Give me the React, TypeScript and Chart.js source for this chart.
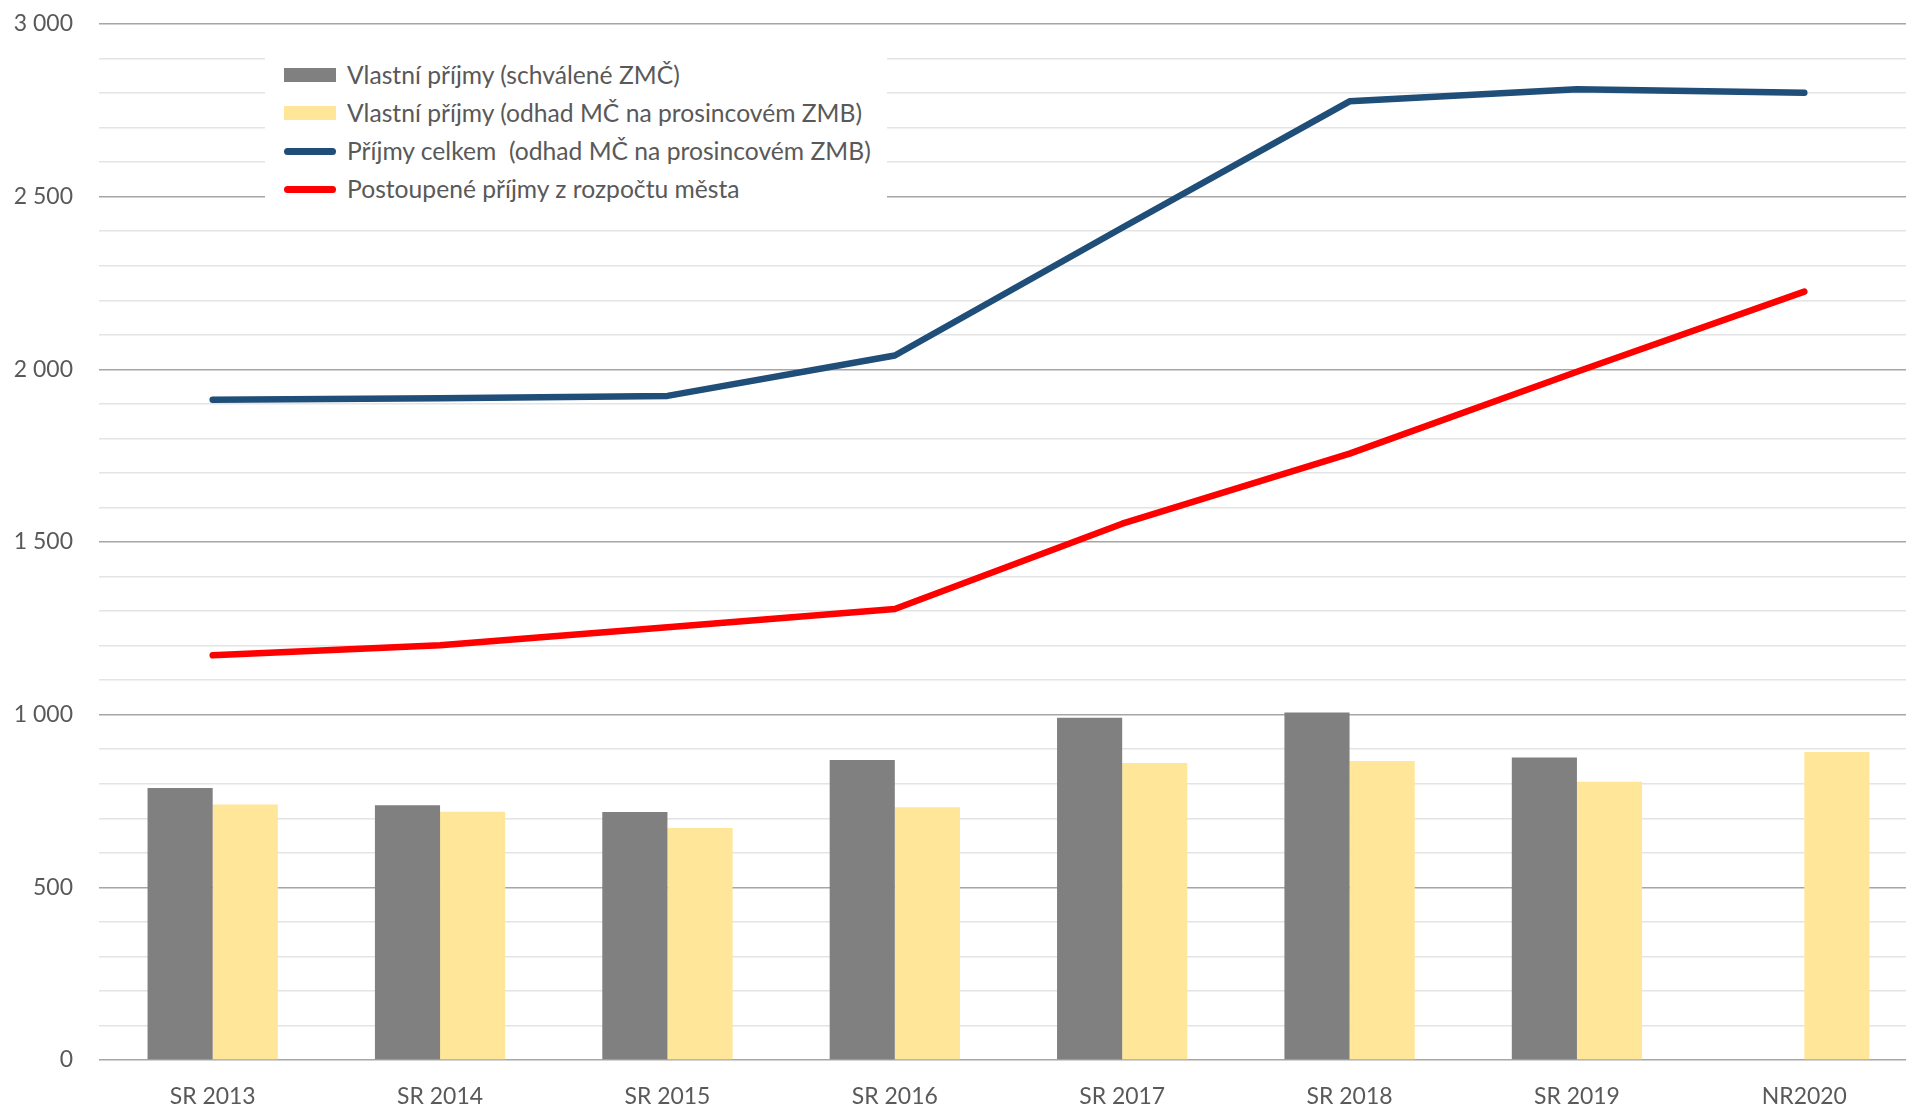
import React, { useEffect, useRef } from "react";
import { Chart, registerables } from "chart.js";

Chart.register(...registerables);

const categories = ["SR 2013", "SR 2014", "SR 2015", "SR 2016", "SR 2017", "SR 2018", "SR 2019", "NR2020"];
const ownApproved = [788, 738, 718, 869, 991, 1006, 876, null];
const ownEstimate = [740, 719, 672, 732, 860, 866, 806, 892];
const totalIncome = [1912, 1916, 1923, 2040, 2410, 2776, 2811, 2801];
const cityTransfers = [1172, 1201, 1253, 1306, 1553, 1756, 1993, 2225];
const seriesNames = [
  "Vlastní příjmy (schválené ZMČ)",
  "Vlastní příjmy (odhad MČ na prosincovém ZMB)",
  "Příjmy celkem  (odhad MČ na prosincovém ZMB)",
  "Postoupené příjmy z rozpočtu města",
];
const yMin = 0;
const yMax = 3000;
const yStep = 100;
const yLabelStep = 500;

const FONT = "Lato, 'Open Sans', sans-serif";
const TEXT_COLOR = "#595959";
const COLORS = ["#808080", "#FFE699", "#1F4E79", "#FF0000"];

function fitSize(text: string, target: number): number {
  const c = document.createElement("canvas").getContext("2d");
  if (!c) return 24;
  c.font = `100px ${FONT}`;
  const w = c.measureText(text).width;
  return (100 * target) / w;
}

function fmt(v: number): string {
  return String(v).replace(/\B(?=(\d{3})+(?!\d))/g, " ");
}

export default function App() {
  const ref = useRef<HTMLCanvasElement | null>(null);
  const [legendSize, setLegendSize] = React.useState(25);

  useEffect(() => {
    const canvas = ref.current;
    if (!canvas) return;
    const tickSize = fitSize("SR 2013", 86);
    setLegendSize(fitSize(seriesNames[1], 516));

    const chart = new Chart(canvas, {
      type: "bar",
      data: {
        labels: categories,
        datasets: [
          {
            type: "line",
            label: seriesNames[2],
            data: totalIncome,
            borderColor: COLORS[2],
            backgroundColor: COLORS[2],
            borderWidth: 6.5,
            borderCapStyle: "round",
            borderJoinStyle: "round",
            pointRadius: 0,
            tension: 0,
            order: 0,
          } as any,
          {
            type: "line",
            label: seriesNames[3],
            data: cityTransfers,
            borderColor: COLORS[3],
            backgroundColor: COLORS[3],
            borderWidth: 6.5,
            borderCapStyle: "round",
            borderJoinStyle: "round",
            pointRadius: 0,
            tension: 0,
            order: 0,
          } as any,
          {
            type: "bar",
            label: seriesNames[0],
            data: ownApproved,
            backgroundColor: COLORS[0],
            categoryPercentage: 0.573,
            barPercentage: 1,
            order: 1,
          } as any,
          {
            type: "bar",
            label: seriesNames[1],
            data: ownEstimate,
            backgroundColor: COLORS[1],
            categoryPercentage: 0.573,
            barPercentage: 1,
            order: 1,
          } as any,
        ],
      },
      options: {
        responsive: false,
        animation: false,
        devicePixelRatio: 1,
        layout: { autoPadding: false, padding: { top: 24, left: 0, right: 0, bottom: 0 } },
        plugins: { legend: { display: false }, tooltip: { enabled: false } },
        scales: {
          x: {
            grid: { display: false, drawTicks: false },
            border: { display: false },
            ticks: {
              color: TEXT_COLOR,
              font: { family: FONT, size: tickSize },
              padding: 37 - 0.6 * tickSize,
              maxRotation: 0,
            },
            afterFit: (s: any) => {
              s.height = 48;
            },
          },
          y: {
            min: yMin,
            max: yMax,
            border: { display: false },
            grid: {
              drawTicks: false,
              lineWidth: 1.5,
              color: (ctx: any) =>
                ctx.tick && ctx.tick.value % yLabelStep === 0 ? "#a6a6a6" : "#e4e4e4",
            },
            ticks: {
              stepSize: yStep,
              autoSkip: false,
              color: TEXT_COLOR,
              padding: 26,
              font: { family: FONT, size: tickSize },
              callback: (v: any) => (Number(v) % yLabelStep === 0 ? fmt(Number(v)) : ""),
            },
            afterFit: (s: any) => {
              s.width = 99;
              s.paddingTop = 0;
              s.paddingBottom = 0;
            },
          },
        },
      },
    });
    return () => chart.destroy();
  }, []);

  const rowTop = 75;
  const rowGap = 38;
  const legendRows = [0, 1, 2, 3];

  return (
    <div
      style={{
        position: "fixed",
        left: 0,
        top: 0,
        width: 1906,
        height: 1108,
        overflow: "hidden",
        background: "#ffffff",
      }}
    >
      <canvas ref={ref} width={1918} height={1108} style={{ display: "block", width: 1918, height: 1108 }} />
      <div
        style={{
          position: "absolute",
          left: 265,
          top: 45,
          width: 622,
          height: 164,
          background: "#ffffff",
        }}
      >
        {legendRows.map((i) => {
          const cy = rowTop + i * rowGap - 45;
          const isLine = i >= 2;
          return (
            <div key={i}>
              <div
                style={{
                  position: "absolute",
                  left: 284 - 265,
                  top: cy - (isLine ? 3.5 : 7),
                  width: 52,
                  height: isLine ? 7 : 14,
                  borderRadius: isLine ? 3.5 : 0,
                  background: COLORS[i],
                }}
              />
              <div
                style={{
                  position: "absolute",
                  left: 347 - 265,
                  top: cy - legendSize * 0.7,
                  height: legendSize * 1.4,
                  lineHeight: `${legendSize * 1.4}px`,
                  fontFamily: FONT,
                  fontSize: legendSize,
                  color: TEXT_COLOR,
                  whiteSpace: "pre",
                }}
              >
                {seriesNames[i]}
              </div>
            </div>
          );
        })}
      </div>
    </div>
  );
}
